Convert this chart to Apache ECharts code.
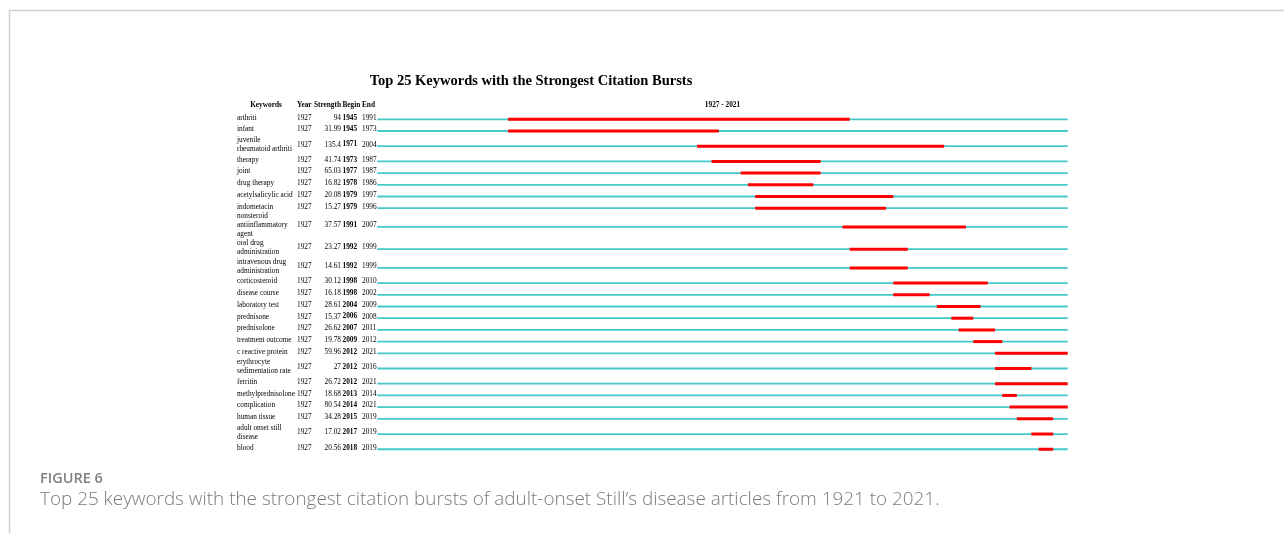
<!DOCTYPE html>
<html><head><meta charset="utf-8">
<script src="https://cdn.jsdelivr.net/npm/echarts@6/dist/echarts.min.js"></script>
<style>html,body{margin:0;padding:0;background:#fff}#c{width:1284px;height:533px}</style>
</head><body><div id="c"></div>
<script>
const keywords = [
  'arthriti', 'infant', 'juvenile\nrheumatoid arthriti', 'therapy', 'joint', 'drug therapy',
  'acetylsalicylic acid', 'indometacin', 'nonsteroid\nantiinflammatory\nagent',
  'oral drug\nadministration', 'intravenous drug\nadministration', 'corticosteroid',
  'disease course', 'laboratory test', 'prednisone', 'prednisolone', 'treatment outcome',
  'c reactive protein', 'erythrocyte\nsedimentation rate', 'ferritin', 'methylprednisolone',
  'complication', 'human tissue', 'adult onset still\ndisease', 'blood'
];
const years = [1927,1927,1927,1927,1927,1927,1927,1927,1927,1927,1927,1927,1927,1927,1927,1927,1927,1927,1927,1927,1927,1927,1927,1927,1927];
const strengths = ['94','31.99','135.4','41.74','65.03','16.82','20.08','15.27','37.57','23.27','14.61','30.12','16.18','28.61','15.37','26.62','19.78','59.96','27','26.72','18.68','80.54','34.28','17.02','20.56'];
const begins = [1945,1945,1971,1973,1977,1978,1979,1979,1991,1992,1992,1998,1998,2004,2006,2007,2009,2012,2012,2012,2013,2014,2015,2017,2018];
const ends = [1991,1973,2004,1987,1987,1986,1997,1996,2007,1999,1999,2010,2002,2009,2008,2011,2012,2021,2016,2021,2014,2021,2019,2019,2019];
const timelineStart = 1927, timelineEnd = 2021;
const rangeLabel = '1927 - 2021';
const headers = ['Keywords', 'Year', 'Strength', 'Begin', 'End'];
const titleText = 'Top 25 Keywords with the Strongest Citation Bursts';
const figureLabel = 'FIGURE 6';
const captionText = 'Top 25 keywords with the strongest citation bursts of adult-onset Still\u2019s disease articles from 1921 to 2021.';

// layout: row heights derived from number of text lines
const EXTRA = 0.6, UNIT = 11.7, TOP = 113.45;
let acc = 0; const centers = [];
keywords.forEach(k => { const n = k.split('\n').length; const h = 1 + (n - 1) * EXTRA; centers.push(acc + h / 2); acc += h; });
const totalUnits = acc;

const serif = '"Liberation Serif", "Times New Roman", serif';
const FS = 7.3;
const TEAL = '#45c8c9', RED = '#ff0000';
const COL = { kw: 237, year: 297, strengthR: 341, begin: 342.5, end: 362 };

const chart = echarts.init(document.getElementById('c'), null, { renderer: 'canvas' });
const option = {
  animation: false,
  backgroundColor: '#fff',
  grid: { left: 377.3, right: 1284 - 1067.7, top: TOP, height: totalUnits * UNIT },
  xAxis: { type: 'value', min: timelineStart, max: timelineEnd + 1, show: false },
  yAxis: { type: 'value', min: 0, max: totalUnits, inverse: true, show: false },
  graphic: [
    { type: 'rect', shape: { x: 9.5, y: 10.5, width: 1400, height: 700 }, style: { fill: 'none', stroke: '#cfcfcf', lineWidth: 1.5 }, silent: true },
    { type: 'text', x: 531, y: 81, style: { text: titleText, font: 'bold 14.5px ' + serif, fill: '#000', align: 'center', verticalAlign: 'middle' } },
    { type: 'text', x: 266, y: 105, style: { text: headers[0], font: 'bold ' + FS + 'px ' + serif, fill: '#000', align: 'center', verticalAlign: 'middle' } },
    { type: 'text', x: COL.year, y: 105, style: { text: headers[1], font: 'bold ' + FS + 'px ' + serif, fill: '#000', align: 'left', verticalAlign: 'middle' } },
    { type: 'text', x: COL.strengthR, y: 105, style: { text: headers[2], font: 'bold ' + FS + 'px ' + serif, fill: '#000', align: 'right', verticalAlign: 'middle' } },
    { type: 'text', x: COL.begin, y: 105, style: { text: headers[3], font: 'bold ' + FS + 'px ' + serif, fill: '#000', align: 'left', verticalAlign: 'middle' } },
    { type: 'text', x: COL.end, y: 105, style: { text: headers[4], font: 'bold ' + FS + 'px ' + serif, fill: '#000', align: 'left', verticalAlign: 'middle' } },
    { type: 'text', x: 722.5, y: 105, style: { text: rangeLabel, font: 'bold ' + FS + 'px ' + serif, fill: '#000', align: 'center', verticalAlign: 'middle' } },
    { type: 'text', x: 40, y: 479, style: { text: figureLabel, font: '600 14.5px "Open Sans", sans-serif', fill: '#7f7f7f', align: 'left', verticalAlign: 'middle' } },
    { type: 'text', x: 40, y: 500, style: { text: captionText, font: '300 18.9px "Open Sans", sans-serif', fill: '#7a7a7a', align: 'left', verticalAlign: 'middle' } }
  ],
  series: [{
    type: 'custom',
    clip: false,
    data: keywords.map((k, i) => [begins[i], ends[i] + 1, centers[i], i]),
    renderItem: function (params, api) {
      const i = api.value(3);
      const yc = api.coord([timelineStart, api.value(2)])[1];
      const x0 = api.coord([timelineStart, 0])[0];
      const x1 = api.coord([timelineEnd + 1, 0])[0];
      const b = api.coord([api.value(0), 0])[0];
      const e = api.coord([api.value(1), 0])[0];
      const ty = yc - 1.6;
      const f = FS + 'px ' + serif;
      return {
        type: 'group', children: [
          { type: 'line', shape: { x1: x0, y1: yc, x2: x1, y2: yc }, style: { stroke: TEAL, lineWidth: 1.8 } },
          { type: 'line', shape: { x1: b, y1: yc, x2: e, y2: yc }, style: { stroke: RED, lineWidth: 3 } },
          { type: 'text', style: { x: COL.kw, y: ty, text: keywords[i], font: f, lineHeight: 9, fill: '#000', align: 'left', verticalAlign: 'middle' } },
          { type: 'text', style: { x: COL.year, y: ty, text: String(years[i]), font: f, fill: '#000', align: 'left', verticalAlign: 'middle' } },
          { type: 'text', style: { x: COL.strengthR, y: ty, text: strengths[i], font: f, fill: '#000', align: 'right', verticalAlign: 'middle' } },
          { type: 'text', style: { x: COL.begin, y: ty, text: String(begins[i]), font: 'bold ' + f, fill: '#000', align: 'left', verticalAlign: 'middle' } },
          { type: 'text', style: { x: COL.end, y: ty, text: String(ends[i]), font: f, fill: '#000', align: 'left', verticalAlign: 'middle' } }
        ]
      };
    }
  }]
};
chart.setOption(option);
</script></body></html>
